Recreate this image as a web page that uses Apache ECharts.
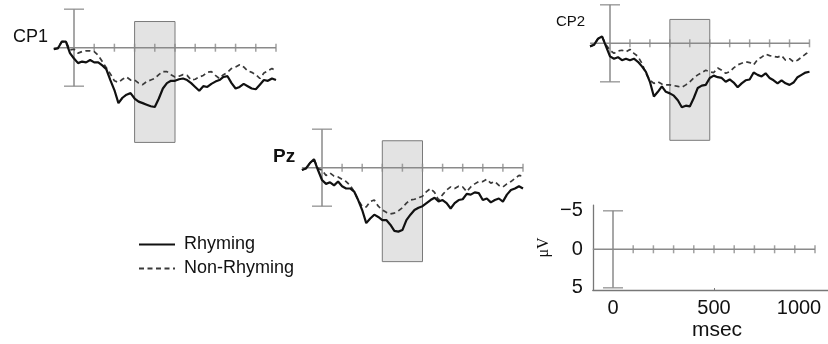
<!DOCTYPE html>
<html>
<head>
<meta charset="utf-8">
<script src="https://cdn.jsdelivr.net/npm/echarts@6/dist/echarts.min.js"></script>
<style>html,body{margin:0;padding:0;background:#fff}#c{width:828px;height:344px}</style>
</head>
<body>
<div id="c"></div>
<script>
// ---- DATA ----
const times = [-100,-80,-60,-40,-20,0,20,40,60,80,100,120,140,160,180,200,220,240,260,280,300,320,340,360,380,400,420,440,460,480,500,520,540,560,580,600,620,640,660,680,700,720,740,760,780,800,820,840,860,880,900,920,940,960,980,1000];
const cp1Rhyming = [0.2,0.1,-0.8,-0.8,0.7, 1.4,2.0,1.8,1.9,1.6,1.9,1.9,2.3,2.8,4.2,5.5,7.2,6.5,6.1,5.9,6.6,7.0,7.2,7.4,7.6,7.7,6.6,5.3,4.6,4.3,4.3, 4.1,4.0,4.2,4.6,5.1,5.6,5.0,5.1,4.7,4.4,4.2,3.8,3.7,4.6,5.3,5.1,4.7,5.0,5.3,5.4,4.8,4.2,4.3,4.0,4.2];
const cp1NonRhyming = [0.2,0.0,-0.8,-0.8,0.3, 0.2,0.7,0.5,0.4,0.4,0.5,1.0,1.8,2.6,3.4,4.3,4.5,4.1,3.8,4.2,4.2,4.6,4.8,4.4,4.2,4.0,3.5,3.1,3.1,3.5,3.8, 3.7,3.5,3.6,4.2,4.1,3.8,3.6,3.2,3.1,3.6,4.0,3.5,3.2,2.7,2.5,2.2,2.5,3.0,3.2,3.5,4.0,3.3,3.0,2.7,3.0];
const cp2Rhyming = [0.4,0.2,-0.6,-0.9,0.4, 1.7,2.0,1.8,2.2,2.0,2.2,2.0,2.4,3.0,3.7,5.0,6.9,6.3,5.6,6.3,6.5,6.8,7.4,8.3,8.1,8.2,7.1,5.8,5.5,5.4,4.5, 4.2,4.4,4.5,5.0,4.7,5.1,5.7,5.2,4.8,4.7,3.8,4.1,4.3,3.9,4.5,4.8,5.2,4.8,5.2,5.4,5.1,4.4,4.1,3.8,3.7];
const cp2NonRhyming = [0.4,0.2,-0.6,-0.9,0.2, 0.9,1.3,1.0,0.9,1.1,0.8,1.3,1.7,2.6,3.9,4.8,5.2,5.0,5.3,5.4,5.4,5.5,5.6,5.7,5.4,5.0,4.5,4.1,3.8,3.5,3.7, 3.8,3.2,3.5,3.9,3.7,3.2,2.8,2.6,2.4,2.5,2.8,2.1,1.8,1.4,1.6,1.7,1.8,1.6,2.2,2.0,2.4,2.2,1.8,1.4,1.1];
const pzRhyming = [0.3,0.1,-0.6,-1.1,0.3, 1.6,2.1,1.9,2.3,1.8,2.4,2.7,2.7,3.1,4.2,5.5,7.2,6.6,6.1,6.4,6.8,6.8,7.4,8.2,8.3,8.1,6.8,6.1,5.5,5.2,5.0, 4.6,4.2,3.9,4.4,4.2,4.6,5.3,4.6,4.2,4.1,3.4,3.5,3.2,3.3,4.2,4.0,4.5,4.2,4.0,4.4,3.5,2.9,2.7,2.4,2.7];
const pzNonRhyming = [0.3,0.1,-0.6,-1.1,0.1, 0.3,1.0,0.7,1.1,1.2,1.5,1.8,2.3,3.1,4.2,5.0,5.1,4.4,4.2,5.0,5.5,5.8,6.0,5.9,5.6,5.2,4.6,4.2,4.1,3.9,3.7, 3.1,2.7,3.2,4.2,3.5,2.9,2.5,2.7,2.4,2.5,3.1,2.5,2.1,1.8,1.8,1.5,2.0,1.8,2.3,2.5,2.1,1.8,1.4,1.0,1.1];
const tickTimes = [100,200,300,400,500,600,700,800,900,1000];
const analysisWindow = [300, 500];
const scaleBar = [-5, 5];
const axisStart = -100, axisEnd = 1000;
const yLabels = [-5, 0, 5];
const xLabels = [0, 500, 1000];
const seriesNames = ['Rhyming', 'Non-Rhyming'];
const panelNames = ['CP1', 'CP2', 'Pz'];

// ---- LAYOUT ----
const PX_UV = 7.7;
const layout = [
  {name:'CP1', x0:74,  y0:47.7,  pxMs:0.202, box:[-3.4,12.3], rh:cp1Rhyming, nr:cp1NonRhyming, label:{x:13, y:37, font:'normal 18px "Liberation Sans", Arial'}},
  {name:'CP2', x0:610, y0:43.3,  pxMs:0.1995, box:[-3.1,12.6], rh:cp2Rhyming, nr:cp2NonRhyming, label:{x:556, y:22, font:'normal 15px "Liberation Sans", Arial'}},
  {name:'Pz',  x0:322, y0:167.7, pxMs:0.201, box:[-3.5,12.2], rh:pzRhyming, nr:pzNonRhyming, label:{x:273, y:157, font:'bold 19px "Liberation Sans", Arial'}}
];
const GRAY = '#8a8a8a';

const grids = [], xAxes = [], yAxes = [], series = [], graphics = [];
const zip = (xs, ys) => xs.map((x, i) => [x, ys[i]]);

function addFrame(i) {
  series.push({type:'line', xAxisIndex:i, yAxisIndex:i, data:[[axisStart,0],[axisEnd,0]], symbol:'none', silent:true, z:2,
    lineStyle:{color:GRAY, width:1.5}});
  series.push({type:'scatter', xAxisIndex:i, yAxisIndex:i, data:tickTimes.map(t => [t,0]), symbol:'rect', symbolSize:[1.5,8], silent:true, z:3,
    itemStyle:{color:GRAY}});
  series.push({type:'line', xAxisIndex:i, yAxisIndex:i, data:[[0,scaleBar[0]],[0,scaleBar[1]]], symbol:'none', silent:true, z:3,
    lineStyle:{color:GRAY, width:1.5}});
  series.push({type:'scatter', xAxisIndex:i, yAxisIndex:i, data:scaleBar.map(v => [0,v]), symbol:'rect', symbolSize:[20,1.5], silent:true, z:3,
    itemStyle:{color:GRAY}});
}

layout.forEach((p, i) => {
  const xmin = -100, xmax = 1000, ymin = -5, ymax = 13;
  grids.push({left:p.x0 + xmin*p.pxMs, top:p.y0 + ymin*PX_UV, width:(xmax-xmin)*p.pxMs, height:(ymax-ymin)*PX_UV,
    containLabel:false, outerBoundsMode:'none'});
  xAxes.push({type:'value', gridIndex:i, min:xmin, max:xmax, show:false});
  yAxes.push({type:'value', gridIndex:i, min:ymin, max:ymax, inverse:true, show:false});
  series.push({type:'line', xAxisIndex:i, yAxisIndex:i, data:[], silent:true, z:1,
    markArea:{silent:true, itemStyle:{color:'#e3e3e3', borderColor:'#7a7a7a', borderWidth:1, opacity:1},
      data:[[{coord:[analysisWindow[0], p.box[0]]},{coord:[analysisWindow[1], p.box[1]]}]]}});
  addFrame(i);
  series.push({name:seriesNames[1], type:'line', xAxisIndex:i, yAxisIndex:i, data:zip(times, p.nr), symbol:'none', z:4,
    lineStyle:{color:'#3a3a3a', width:1.7, type:[5,3.5]}, itemStyle:{color:'#3a3a3a'}});
  series.push({name:seriesNames[0], type:'line', xAxisIndex:i, yAxisIndex:i, data:zip(times, p.rh), symbol:'none', z:5,
    lineStyle:{color:'#111', width:2.2}, itemStyle:{color:'#111'}});
  graphics.push({type:'text', x:p.label.x, y:p.label.y, silent:true,
    style:{text:p.name, font:p.label.font, fill:'#111', verticalAlign:'middle', align:'left'}});
});

// scale panel
const S = {x0:613, y0:249.3, pxMs:0.202, xmin:-100, xmax:1070, ymin:-5.75, ymax:5.29};
const si = 3;
grids.push({left:S.x0 + S.xmin*S.pxMs, top:S.y0 + S.ymin*PX_UV, width:(S.xmax-S.xmin)*S.pxMs, height:(S.ymax-S.ymin)*PX_UV,
  containLabel:false, outerBoundsMode:'none'});
const labelFont = {fontFamily:'"Liberation Sans", Arial', fontSize:20, color:'#111'};
xAxes.push({type:'value', gridIndex:si, min:S.xmin, max:S.xmax, position:'bottom',
  axisLine:{show:true, onZero:false, lineStyle:{color:'#777', width:1.3}},
  axisTick:{show:true, inside:true, length:2, customValues:[500], lineStyle:{color:'#777'}},
  splitLine:{show:false},
  axisLabel:Object.assign({customValues:xLabels, margin:8, hideOverlap:false,
    formatter:v => v === xLabels[xLabels.length-1] ? '{r|' + v + '}' : String(v),
    rich:{r:{fontFamily:'"Liberation Sans", Arial', fontSize:20, color:'#111', padding:[0,32,0,0]}}}, labelFont),
  name:'msec', nameLocation:'middle', nameGap:30,
  nameTextStyle:{fontFamily:'"Liberation Sans", Arial', fontSize:21, color:'#111', padding:[0,0,0,12]}});
yAxes.push({type:'value', gridIndex:si, min:S.ymin, max:S.ymax, inverse:true, position:'left',
  axisLine:{show:true, onZero:false, lineStyle:{color:'#777', width:1.3}},
  axisTick:{show:false}, splitLine:{show:false},
  axisLabel:Object.assign({customValues:yLabels, margin:10, formatter:v => v < 0 ? '\u2212' + Math.abs(v) : String(v)}, labelFont),
  name:'\u03bcV', nameLocation:'middle', nameGap:41, nameRotate:90,
  nameTextStyle:{fontFamily:'"Liberation Serif", "DejaVu Serif", serif', fontSize:16, color:'#111'}});
addFrame(si);

const chart = echarts.init(document.getElementById('c'), null, {renderer:'canvas'});
chart.setOption({
  animation:false,
  backgroundColor:'#fff',
  grid:grids, xAxis:xAxes, yAxis:yAxes, series:series,
  legend:{data:seriesNames, orient:'vertical', left:133, top:229, itemWidth:36, itemHeight:14, itemGap:3,
    itemStyle:{opacity:0, borderWidth:0},
    textStyle:{fontFamily:'"Liberation Sans", Arial', fontSize:18, color:'#111', lineHeight:21, padding:[0,0,0,4]}},
  graphic:graphics
});
</script>
</body>
</html>
